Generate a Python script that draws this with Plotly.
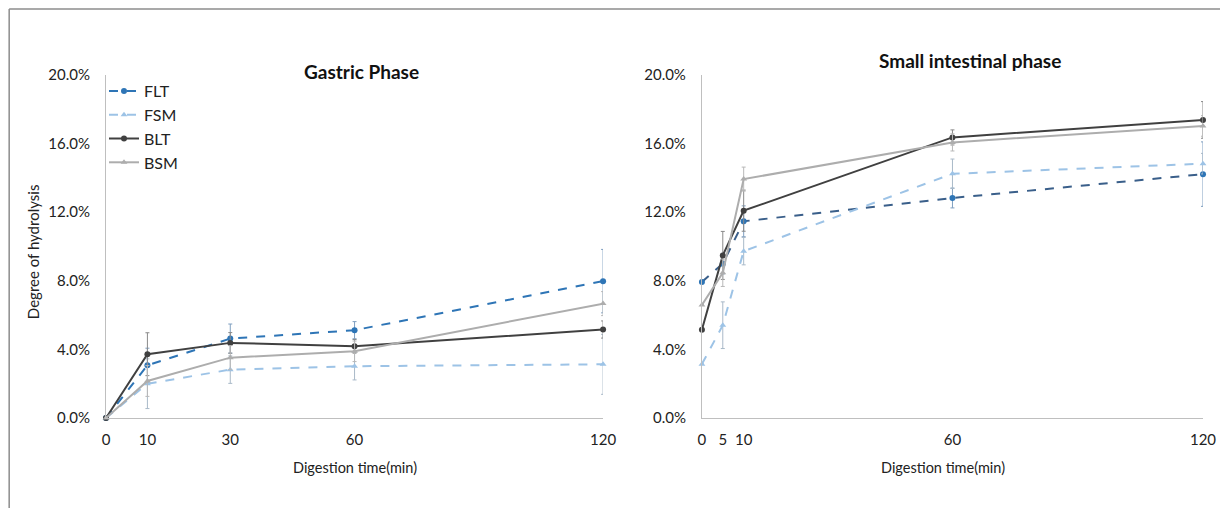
import plotly.graph_objects as go

# ---- data ----
series_names = ["FLT", "FSM", "BLT", "BSM"]

gastric_time = [0, 10, 30, 60, 120]
gastric_FLT = [0.0, 3.07, 4.63, 5.12, 7.98]
gastric_FSM = [0.0, 2.00, 2.82, 3.02, 3.13]
gastric_BLT = [0.0, 3.72, 4.38, 4.18, 5.16]
gastric_BSM = [0.0, 2.16, 3.52, 3.89, 6.67]
gastric_FLT_err = [0.0, 1.0, 0.85, 0.5, 1.85]
gastric_FSM_err = [0.0, 1.45, 0.8, 0.8, 1.75]
gastric_BLT_err = [0.0, 1.25, 0.6, 0.4, 0.5]
gastric_BSM_err = [0.0, 0.9, 0.7, 0.6, 0.7]

intestinal_time = [0, 5, 10, 60, 120]
intestinal_FLT = [7.93, 9.00, 11.47, 12.83, 14.22]
intestinal_FSM = [3.14, 5.41, 9.73, 14.24, 14.83]
intestinal_BLT = [5.14, 9.48, 12.09, 16.36, 17.38]
intestinal_BSM = [6.59, 8.47, 13.93, 16.07, 17.03]
intestinal_FLT_err = [0.0, 0.6, 0.9, 0.58, 1.88]
intestinal_FSM_err = [0.0, 1.36, 0.8, 0.86, 0.6]
intestinal_BLT_err = [0.0, 1.4, 1.2, 0.44, 1.07]
intestinal_BSM_err = [0.0, 0.8, 0.7, 0.5, 0.6]

y_ticks = [0, 0.04, 0.08, 0.12, 0.16, 0.20]

FONT = "Lato, 'Open Sans', sans-serif"

styles = {
    "FLT": dict(line=dict(color="#2E75B6", width=2, dash="dash"),
                marker=dict(color="#2E75B6", symbol="circle", size=6), err="#7F9FC0"),
    "FSM": dict(line=dict(color="#9DC3E6", width=2, dash="dash"),
                marker=dict(color="#9DC3E6", symbol="triangle-up", size=6), err="#A9B9C8"),
    "BLT": dict(line=dict(color="#404040", width=2),
                marker=dict(color="#404040", symbol="circle", size=6), err="#8A8A8A"),
    "BSM": dict(line=dict(color="#ADADAD", width=2),
                marker=dict(color="#ADADAD", symbol="triangle-up", size=6), err="#B8B8B8"),
}

fig = go.Figure()

gastric = {"FLT": (gastric_FLT, gastric_FLT_err), "FSM": (gastric_FSM, gastric_FSM_err),
           "BLT": (gastric_BLT, gastric_BLT_err), "BSM": (gastric_BSM, gastric_BSM_err)}
intestinal = {"FLT": (intestinal_FLT, intestinal_FLT_err), "FSM": (intestinal_FSM, intestinal_FSM_err),
              "BLT": (intestinal_BLT, intestinal_BLT_err), "BSM": (intestinal_BSM, intestinal_BSM_err)}

for name in series_names:
    st = styles[name]
    vals, err = gastric[name]
    fig.add_trace(go.Scatter(
        x=gastric_time, y=[v / 100 for v in vals], name=name, mode="lines+markers",
        line=st["line"], marker=st["marker"], cliponaxis=False,
        error_y=dict(type="data", array=[e / 100 for e in err], color=st["err"], thickness=1, width=2),
        xaxis="x", yaxis="y", showlegend=True))

for name in series_names:
    st = styles[name]
    vals, err = intestinal[name]
    line = dict(st["line"])
    if name == "FLT":
        line["color"] = "#3A5F8A"
    fig.add_trace(go.Scatter(
        x=intestinal_time, y=[v / 100 for v in vals], name=name, mode="lines+markers",
        line=line, marker=st["marker"], cliponaxis=False,
        error_y=dict(type="data", array=[e / 100 for e in err], color=st["err"], thickness=1, width=2),
        xaxis="x2", yaxis="y2", showlegend=False))

axis_common = dict(showgrid=False, zeroline=False, showline=True, linecolor="#BFBFBF",
                   linewidth=1, ticks="", tickfont=dict(family=FONT, size=15, color="#222"))

# page body has an 8px margin; work in reference-pixel coordinates
OFF = 8
W, H = 1228 - OFF, 508 - OFF
L = 106 - OFF
R = W - (1205 - OFF)
T = 75 - OFF
B = H - (418 - OFF)
pw = W - L - R
ph = H - T - B


def fx(p):
    return (p - OFF - L) / pw


def fy(p):
    return (H - B - (p - OFF)) / ph


def label(text, x, y, size, angle=0, color="#222"):
    return dict(text=text, x=fx(x), y=fy(y), xref="paper", yref="paper",
                xanchor="center", yanchor="middle", textangle=angle,
                showarrow=False, font=dict(family=FONT, size=size, color=color))


fig.update_layout(
    width=W, height=H,
    margin=dict(l=L, r=R, t=T, b=B),
    paper_bgcolor="white", plot_bgcolor="white",
    font=dict(family=FONT, color="#222"),
    xaxis=dict(axis_common, domain=[0, fx(604)], range=[0, 120], tickvals=gastric_time,
               ticklabelstandoff=8),
    yaxis=dict(axis_common, range=[0, 0.2], tickvals=y_ticks, tickformat=".1%", ticklabelstandoff=12),
    xaxis2=dict(axis_common, domain=[fx(703), 1], range=[0, 120], tickvals=intestinal_time, anchor="y2",
                ticklabelstandoff=8),
    yaxis2=dict(axis_common, range=[0, 0.2], tickvals=y_ticks, tickformat=".1%", anchor="x2",
                ticklabelstandoff=12),
    legend=dict(x=fx(104), y=fy(74), xanchor="left", yanchor="top",
                font=dict(family=FONT, size=16, color="#222"), bgcolor="rgba(0,0,0,0)",
                itemwidth=30, tracegroupgap=0),
    annotations=[
        label("<b>Gastric Phase</b>", 362, 72, 19, color="#111"),
        label("<b>Small intestinal phase</b>", 972, 61, 19, color="#111"),
        label("Digestion time(min)", 355, 467, 14.5),
        label("Digestion time(min)", 945, 467, 14.5),
        label("Degree of hydrolysis", 33, 252, 15, angle=-90),
    ],
    shapes=[
        dict(type="line", xref="paper", yref="paper", x0=fx(9), x1=fx(1240), y0=fy(9), y1=fy(9),
             line=dict(color="#8C8C8C", width=1.5)),
        dict(type="line", xref="paper", yref="paper", x0=fx(9), x1=fx(9), y0=fy(9), y1=fy(520),
             line=dict(color="#8C8C8C", width=1.5)),
    ],
)

fig.write_html("out.html")
